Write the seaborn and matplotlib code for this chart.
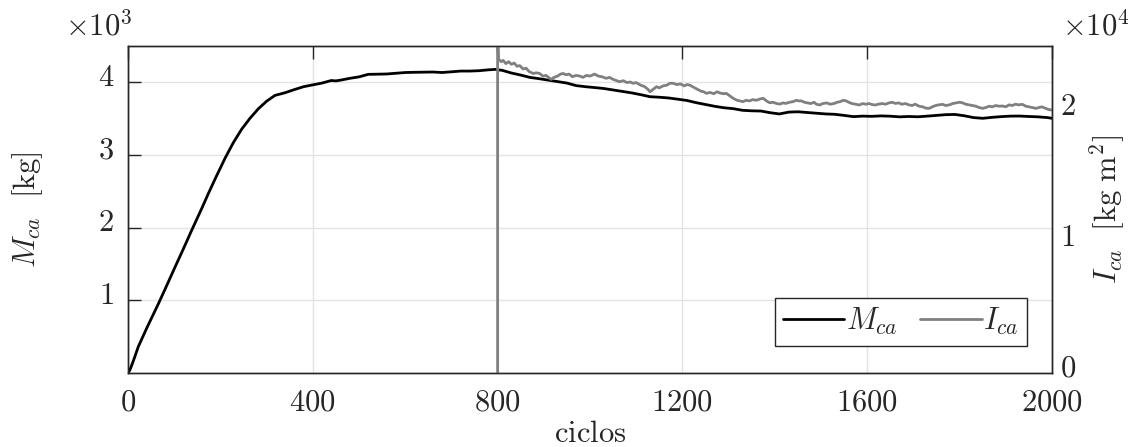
import numpy as np
import pandas as pd
import matplotlib
matplotlib.use("Agg")
import matplotlib.pyplot as plt
import matplotlib.transforms as mtransforms
import seaborn as sns

# ---------------- data ----------------
m_cycles = [0, 4, 8, 14, 22, 40, 66, 80, 102, 120, 138, 160, 174, 190, 210, 228, 246, 264,
            282, 300, 318, 340, 360, 380, 400, 420, 440, 450, 460, 480, 500, 520, 540, 560,
            580, 600, 620, 640, 660, 680, 700, 720, 740, 760, 780, 795, 810, 830, 850, 870,
            890, 910, 930, 950, 970, 990, 1010, 1030, 1050, 1070, 1090, 1110, 1130, 1150,
            1170, 1190, 1210, 1230, 1250, 1270, 1290, 1310, 1330, 1350, 1370, 1390, 1410,
            1430, 1450, 1470, 1490, 1510, 1530, 1550, 1570, 1590, 1610, 1630, 1650, 1670,
            1690, 1710, 1730, 1750, 1770, 1790, 1810, 1830, 1850, 1870, 1890, 1910, 1930,
            1950, 1970, 1990, 2000]
m_ca = [0, 40, 106, 210, 358, 610, 956, 1150, 1460, 1710, 1966, 2270, 2471, 2690, 2955,
        3170, 3355, 3505, 3635, 3740, 3820, 3857, 3900, 3940, 3965, 3990, 4025, 4020, 4030,
        4055, 4075, 4110, 4112, 4115, 4125, 4135, 4138, 4140, 4142, 4135, 4145, 4155, 4155,
        4160, 4172, 4178, 4165, 4128, 4100, 4068, 4050, 4030, 4010, 3990, 3955, 3940, 3928,
        3915, 3895, 3875, 3855, 3830, 3802, 3795, 3785, 3768, 3750, 3720, 3695, 3670, 3650,
        3638, 3615, 3608, 3605, 3582, 3565, 3590, 3595, 3585, 3575, 3565, 3560, 3545, 3528,
        3535, 3532, 3538, 3534, 3525, 3530, 3526, 3535, 3545, 3555, 3558, 3540, 3515, 3505,
        3518, 3528, 3535, 3536, 3530, 3525, 3515, 3505]

i_cycles = [800, 800, 802, 808, 812, 818, 824, 830, 836, 842, 848, 855, 862, 868, 877, 884,
            891, 898, 905, 912, 916, 922, 930, 936, 942, 948, 955, 962, 970, 978, 985, 992,
            1000, 1010, 1018, 1026, 1035, 1042, 1050, 1058, 1064, 1072, 1080, 1087, 1093,
            1100, 1110, 1118, 1125, 1130, 1137, 1144, 1150, 1158, 1166, 1173, 1180, 1188,
            1196, 1204, 1210, 1216, 1224, 1232, 1240, 1246, 1252, 1260, 1268, 1275, 1282,
            1290, 1295, 1302, 1310, 1318, 1325, 1331, 1338, 1345, 1352, 1360, 1368, 1375,
            1382, 1389, 1396, 1404, 1411, 1418, 1424, 1432, 1440, 1447, 1452, 1457, 1464,
            1471, 1478, 1485, 1490, 1497, 1504, 1512, 1520, 1528, 1535, 1542, 1548, 1554,
            1560, 1567, 1575, 1583, 1590, 1597, 1604, 1611, 1618, 1625, 1632, 1640, 1647,
            1654, 1661, 1668, 1675, 1683, 1690, 1697, 1704, 1712, 1720, 1727, 1734, 1741,
            1748, 1755, 1763, 1770, 1778, 1785, 1792, 1800, 1806, 1813, 1820, 1828, 1835,
            1842, 1850, 1857, 1864, 1871, 1878, 1885, 1893, 1900, 1907, 1914, 1921, 1928,
            1936, 1943, 1950, 1957, 1965, 1972, 1978, 1985, 1992, 2000]
i_ca = [0, 26500, 24000, 23800, 23900, 23650, 23800, 23600, 23700, 23450, 23500, 23250,
        23300, 23050, 22900, 22950, 22900, 22700, 22750, 22550, 22450, 22600, 22700, 22850,
        22900, 22800, 22850, 22650, 22750, 22700, 22600, 22750, 22700, 22850, 22700, 22650,
        22530, 22600, 22450, 22350, 22270, 22350, 22200, 22250, 22150, 22200, 22000, 21900,
        21700, 21500, 21700, 21890, 21800, 21950, 22000, 22150, 22150, 22050, 22100, 21950,
        22050, 22010, 21850, 21700, 21550, 21500, 21380, 21450, 21350, 21500, 21400, 21350,
        21380, 21200, 21000, 20850, 20800, 20740, 20850, 20800, 20900, 20850, 20950, 21000,
        20800, 20660, 20700, 20600, 20560, 20650, 20610, 20700, 20750, 20850, 20800, 20810,
        20700, 20650, 20600, 20700, 20550, 20490, 20600, 20650, 20550, 20600, 20700, 20750,
        20850, 20810, 20700, 20600, 20550, 20490, 20600, 20550, 20600, 20520, 20490, 20560,
        20600, 20550, 20650, 20700, 20610, 20650, 20550, 20600, 20500, 20450, 20550, 20400,
        20350, 20250, 20230, 20350, 20450, 20500, 20540, 20450, 20500, 20600, 20650, 20700,
        20660, 20550, 20500, 20450, 20400, 20300, 20230, 20300, 20400, 20350, 20450, 20400,
        20410, 20350, 20500, 20450, 20550, 20500, 20540, 20400, 20350, 20300, 20230, 20300,
        20350, 20250, 20150, 20100]

x_ticks = [0, 400, 800, 1200, 1600, 2000]
y_left_ticks = [1000, 2000, 3000, 4000]
y_left_labels = ["1", "2", "3", "4"]
y_right_ticks = [0, 10000, 20000]
y_right_labels = ["0", "1", "2"]

# ---------------- style ----------------
sns.set_style("white")
plt.rcParams["mathtext.fontset"] = "cm"
plt.rcParams["font.family"] = ["DejaVu Serif"]
TXT = "#262626"
FS = 22

fig = plt.figure(figsize=(11.28, 4.47), dpi=100)
W, H = 1128, 447
L, R, T, B = 128, 1052, 46, 373
ax = fig.add_axes([L / W, 1 - B / H, (R - L) / W, (B - T) / H])

df_m = pd.DataFrame({"ciclos": m_cycles, "M": m_ca})
df_i = pd.DataFrame({"ciclos": i_cycles, "I": i_ca})

sns.lineplot(data=df_m, x="ciclos", y="M", ax=ax, color="black", linewidth=2.0,
             estimator=None, sort=False, label=r"$M_{ca}$")
ax.set_xlim(0, 2000)
ax.set_ylim(0, 4500)
ax.set_xticks(x_ticks)
ax.set_xticklabels([f"${t}$" for t in x_ticks])
ax.set_yticks(y_left_ticks)
ax.set_yticklabels([f"${t}$" for t in y_left_labels])
ax.grid(True, color="#e3e3e3", linewidth=1.0)
ax.set_axisbelow(True)
ax.tick_params(axis="both", direction="in", length=9, width=1.0, colors=TXT,
               labelsize=FS, top=True, right=True, pad=10)
ax.tick_params(axis="x", pad=10)
ax.set_xlabel(r"$\mathrm{ciclos}$", fontsize=FS, color=TXT, labelpad=0)
ax.set_ylabel(r"$M_{ca}\ \ \mathrm{[kg]}$", fontsize=FS, color=TXT)
ax.yaxis.set_label_coords(-0.09, 0.5)
for s in ax.spines.values():
    s.set_color(TXT)
    s.set_linewidth(1.0)

ax2 = ax.twinx()
sns.lineplot(data=df_i, x="ciclos", y="I", ax=ax2, color="#808080", linewidth=2.0,
             estimator=None, sort=False, label=r"$I_{ca}$")
ax2.set_ylim(0, 25000)
ax2.set_xlim(0, 2000)
ax2.set_yticks(y_right_ticks)
ax2.set_yticklabels([f"${t}$" for t in y_right_labels])
ax2.tick_params(axis="y", length=0, colors=TXT, labelsize=FS, pad=6)
ax2.set_ylabel(r"$I_{ca}\ \ \mathrm{[kg\ m^2]}$", fontsize=FS, color=TXT)
ax2.yaxis.set_label_coords(1.04, 0.5)
for s in ax2.spines.values():
    s.set_color(TXT)
    s.set_linewidth(1.0)
ax2.grid(False)

# lift the y tick labels a little (MATLAB-like vertical centring of digits)
lift = mtransforms.ScaledTranslation(0, 6 / 72, fig.dpi_scale_trans)
for lab in ax.get_yticklabels() + ax2.get_yticklabels():
    lab.set_transform(lab.get_transform() + lift)

for a in (ax, ax2):
    lg = a.get_legend()
    if lg is not None:
        lg.remove()

h1, l1 = ax.get_legend_handles_labels()
h2, l2 = ax2.get_legend_handles_labels()
leg = ax2.legend(h1 + h2, l1 + l2, loc="lower right", bbox_to_anchor=(0.973, 0.083),
                 borderaxespad=0, ncol=2, fontsize=FS, frameon=True, fancybox=False,
                 framealpha=1, edgecolor=TXT, handlelength=2.0, handletextpad=0.05,
                 columnspacing=0.75, borderpad=0.28)
leg.get_frame().set_linewidth(1.0)

fig.text(65 / W, 1 - 35 / H, r"$\times10^{3}$", fontsize=FS, color=TXT, ha="left", va="baseline")
fig.text(1062 / W, 1 - 35 / H, r"$\times10^{4}$", fontsize=FS, color=TXT, ha="left", va="baseline")

fig.savefig("out.png", dpi=100)
